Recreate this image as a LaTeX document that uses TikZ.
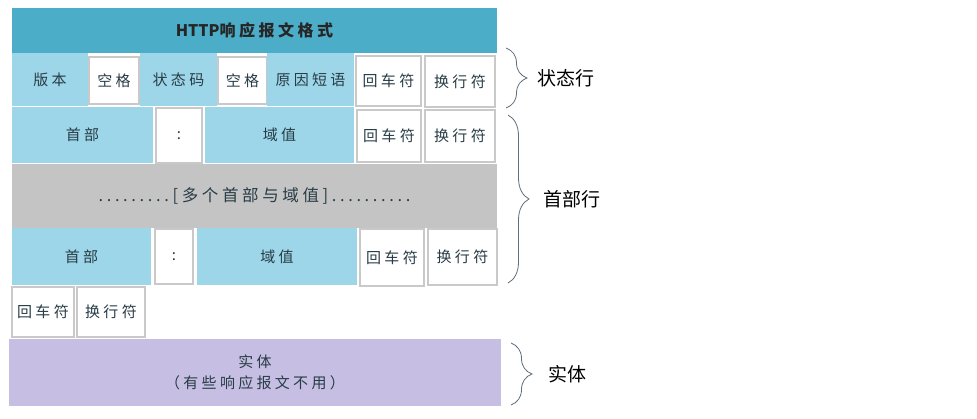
\documentclass[tikz,border=0pt]{standalone}
\usepackage{fontspec}
\usepackage{xcolor}
\setmainfont{Noto Sans CJK SC}
\newfontfamily\cellfont[LetterSpace=22]{Noto Sans CJK SC}
\usetikzlibrary{decorations.pathreplacing}

\definecolor{titleblue}{HTML}{4CADC8}
\definecolor{cellblue}{HTML}{9DD6E8}
\definecolor{cellgray}{HTML}{C4C4C4}
\definecolor{cellline}{HTML}{C9C9C9}
\definecolor{entitypurple}{HTML}{C6BEE3}
\definecolor{celltext}{HTML}{283C46}
\definecolor{bracegray}{HTML}{5F6E7C}

\begin{document}
\begin{tikzpicture}[x=1pt,y=-1pt]
            \tikzset{box/.style = {inner sep=0pt, text=celltext, font=\cellfont\fontsize{15}{15}\selectfont}}
            \tikzset{tone/.style = {box, fill=cellblue}}
            \tikzset{gap/.style = {box, fill=white, draw=cellline, line width=1.5pt}}
            \tikzset{bracket/.style = {draw=bracegray, line width=0.8pt, decorate, decoration={brace, amplitude=21pt}}}
            \tikzset{part/.style = {anchor=west, inner sep=0pt, font=\fontsize{19}{19}\selectfont}}

            \fill[white] (0,0) rectangle (977,419);
            \useasboundingbox (0,0) rectangle (977,419);

            % title
            \node[box, fill=titleblue, minimum width=485, minimum height=45, text=black!85,
                  font=\cellfont\bfseries\fontsize{16}{16}\selectfont] (title) at (254.5,30.5)
                 {{\normalfont\bfseries\fontsize{16}{16}\selectfont HTTP}响应报文格式};

            % cells
            \foreach \n/\xa/\ya/\xb/\yb/\s/\t in {
              ver/12/53/88/106/tone/版本, sp1/89/57/139/104/gap/空格, code/140/53/217/106/tone/状态码,
              sp2/218/57/267/104/gap/空格, phrase/267/53/354/106/tone/原因短语,
              cr1/356/56/421/106/gap/回车符, lf1/425/56/495/107/gap/换行符,
              hd1/12/107/153/163/tone/首部, cl1/156/108/202/163/gap/:, val1/205/107/354/163/tone/域值,
              cr2/357/110/421/162/gap/回车符, lf2/425/110/495/162/gap/换行符,
              hd2/12/228/151/285/tone/首部, cl2/155/229/193/284/gap/:, val2/197/228/357/285/tone/域值,
              cr3/360/229/424/286/gap/回车符, lf3/428/229/497/285/gap/换行符,
              cr4/12/287/74/337/gap/回车符, lf4/77/287/145/337/gap/换行符}
            {
              \node[\s, minimum width=\xb-\xa, minimum height=\yb-\ya] (\n) at ({(\xa+\xb)/2},{(\ya+\yb)/2}) {\t};
            }

            % more headers
            \node[box, fill=cellgray, minimum width=485, minimum height=64,
                  font=\cellfont\fontsize{16.5}{16.5}\selectfont] (more) at (254.5,196)
                 {.........[多个首部与域值]..........};

            % entity
            \node[box, fill=entitypurple, minimum width=492, minimum height=67, align=center,
                  font=\cellfont\fontsize{15}{21}\selectfont] (body) at (255,372.5) {实体\\（有些响应报文不用）};

            % braces
            \coordinate (s1) at (506,48);  \coordinate (s2) at (506,108);
            \coordinate (h1) at (508,115); \coordinate (h2) at (508,283);
            \coordinate (e1) at (511,343); \coordinate (e2) at (511,405);
            \draw[bracket] (s1) -- (s2) node[part, midway, xshift=31pt] (status) {状态行};
            \draw[bracket] (h1) -- (h2) node[part, midway, xshift=35pt] (head) {首部行};
            \draw[bracket] (e1) -- (e2) node[part, midway, xshift=37pt] (entity) {实体};

          \end{tikzpicture}
\end{document}
